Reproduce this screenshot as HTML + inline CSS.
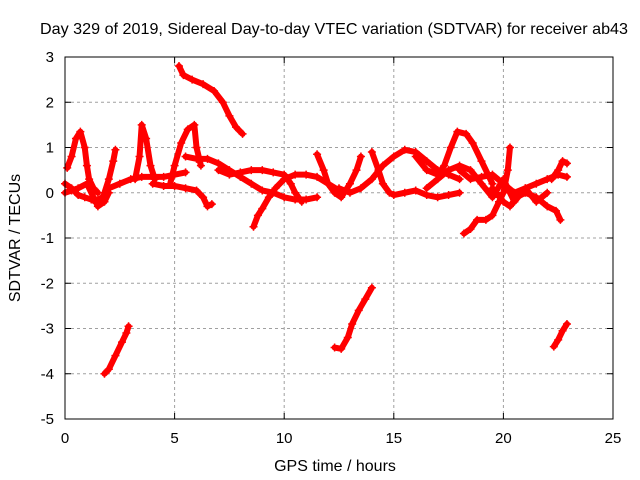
<!DOCTYPE html>
<html><head><meta charset="utf-8"><style>
body{margin:0;background:#fff}
svg{display:block;font-family:"Liberation Sans",sans-serif}
</style></head><body>
<svg id="chart" width="640" height="480">
<text x="40" y="34" textLength="588" lengthAdjust="spacingAndGlyphs" font-size="16">Day 329 of 2019, Sidereal Day-to-day VTEC variation (SDTVAR) for receiver ab43</text>
<text x="335" y="471" text-anchor="middle" font-size="16">GPS time / hours</text>
<text transform="translate(20,238) rotate(-90)" text-anchor="middle" font-size="16">SDTVAR / TECUs</text>
<g id="grid"></g><g id="marks"></g>
<rect x="65" y="57" width="548" height="362" fill="none" stroke="#000" stroke-width="1"/>
</svg>
<script>
const xTicks=[0,5,10,15,20,25];
const yTicks=[-5,-4,-3,-2,-1,0,1,2,3];
const tracks=[
[[0.1,0.55],[0.3,0.8],[0.5,1.2],[0.7,1.35],[0.9,1.0],[1.0,0.6],[1.1,0.3],[1.3,0.1],[1.5,0.0]],
[[0,0.2],[0.3,0.1],[0.6,-0.05],[0.9,-0.1],[1.2,-0.15],[1.4,-0.2],[1.7,-0.1],[2.0,0.1],[2.5,0.2],[3.0,0.3],[3.5,0.35],[4.0,0.35],[4.5,0.35],[5.0,0.4],[5.5,0.45]],
[[0,0.0],[0.3,0.05],[0.6,0.1],[1.0,0.2],[1.3,-0.1],[1.5,-0.3],[1.8,-0.2],[2.0,0.0]],
[[1.8,0.0],[2.0,0.3],[2.2,0.7],[2.3,0.95]],
[[3.2,0.3],[3.4,0.8],[3.5,1.5],[3.7,1.2],[3.9,0.6],[4.1,0.3]],
[[4.8,0.2],[5.0,0.6],[5.3,1.1],[5.6,1.4],[5.9,1.5],[6.0,1.0],[6.2,0.6]],
[[5.2,2.8],[5.4,2.6],[5.8,2.5],[6.3,2.4],[6.8,2.25],[7.2,2.0],[7.5,1.7],[7.8,1.45],[8.1,1.3]],
[[5.5,0.8],[6,0.75],[6.5,0.75],[7,0.65],[7.5,0.5],[8,0.35],[8.5,0.2],[9,0.05],[9.5,0.0],[10,-0.1],[10.5,-0.15],[11,-0.15],[11.5,-0.1]],
[[4,0.2],[4.5,0.15],[5,0.15],[5.5,0.1],[6,0.05],[6.3,-0.1],[6.5,-0.3],[6.7,-0.25]],
[[8.6,-0.75],[8.8,-0.5],[9.0,-0.35],[9.3,-0.1],[9.6,0.1],[10,0.3],[10.5,0.4],[11,0.4],[11.5,0.35],[12,0.2],[12.5,0.05]],
[[7,0.5],[7.5,0.4],[8,0.45],[8.5,0.5],[9,0.5],[9.5,0.45],[10,0.4],[10.3,0.2],[10.5,0.0],[10.8,-0.2]],
[[11.5,0.85],[11.8,0.5],[12,0.2],[12.3,0.0],[12.6,-0.1],[13,0.2],[13.3,0.5],[13.5,0.8]],
[[12.5,0.1],[13,0.0],[13.5,0.1],[14,0.3],[14.5,0.6],[15,0.8],[15.5,0.95],[16,0.9],[16.5,0.7],[17,0.5],[17.5,0.4],[18,0.3]],
[[14,0.9],[14.3,0.5],[14.5,0.2],[14.8,0.0],[15,-0.05],[15.5,0.0],[16,0.05],[16.5,-0.05],[17,-0.1],[17.5,-0.05],[18,0.0]],
[[16,0.8],[16.5,0.5],[17,0.4],[17.3,0.6],[17.6,1.0],[17.9,1.35],[18.3,1.3],[18.6,1.1],[19,0.7],[19.3,0.4],[19.5,0.2]],
[[18.2,-0.9],[18.5,-0.8],[18.8,-0.6],[19.2,-0.6],[19.5,-0.5],[19.8,-0.2],[20,0.0],[20.2,0.5],[20.3,1.0]],
[[18,0.5],[18.5,0.3],[19,0.35],[19.5,0.4],[20,0.2],[20.5,0.0],[21,0.1],[21.5,0.2],[22,0.3],[22.5,0.4],[22.9,0.35]],
[[19.5,0.1],[20,-0.2],[20.3,-0.3],[20.6,-0.1],[21,0.0],[21.5,-0.1],[22,-0.3],[22.4,-0.4],[22.6,-0.6]],
[[22.2,0.3],[22.5,0.5],[22.7,0.7],[22.9,0.65]],
[[16.5,0.1],[17,0.3],[17.5,0.5],[18,0.6],[18.5,0.5],[19,0.2],[19.5,-0.1],[20,0.3],[20.5,-0.2],[21,0.1],[21.5,-0.2],[22,0.0]],
[[1.8,-4.0],[2.0,-3.9],[2.3,-3.6],[2.6,-3.3],[2.8,-3.1],[2.9,-2.95]],
[[12.3,-3.42],[12.6,-3.45],[12.9,-3.2],[13.1,-2.9],[13.4,-2.6],[13.7,-2.35],[14.0,-2.1]],
[[22.3,-3.4],[22.5,-3.25],[22.7,-3.05],[22.9,-2.9]]
];
const NS="http://www.w3.org/2000/svg";
const X=v=>65+v*548/25, Y=v=>419-(v+5)*362/8;
const grid=document.getElementById('grid'), marks=document.getElementById('marks');
function mk(tag,attrs,parent){const e=document.createElementNS(NS,tag);for(const k in attrs)e.setAttribute(k,attrs[k]);parent.appendChild(e);return e;}
xTicks.forEach(t=>{
  const x=X(t);
  if(t>0&&t<25){const g=mk('line',{x1:x,y1:57,x2:x,y2:419,stroke:'#a0a0a0','stroke-dasharray':'3,3'},grid);
  
  }
  mk('line',{x1:x,y1:419,x2:x,y2:413,stroke:'#000'},grid);
  mk('line',{x1:x,y1:57,x2:x,y2:63,stroke:'#000'},grid);
  const l=mk('text',{x:x,y:443,'text-anchor':'middle','font-size':'15'},grid);l.textContent=t;
  
  
});
yTicks.forEach(t=>{
  const y=Y(t);
  if(t>-5&&t<3){const g=mk('line',{x1:65,y1:y,x2:613,y2:y,stroke:'#a0a0a0','stroke-dasharray':'3,3'},grid);
  
  }
  mk('line',{x1:65,y1:y,x2:71,y2:y,stroke:'#000'},grid);
  mk('line',{x1:613,y1:y,x2:607,y2:y,stroke:'#000'},grid);
  const l=mk('text',{x:54,y:y+5,'text-anchor':'end','font-size':'15'},grid);l.textContent=t;
  
  
});
tracks.forEach((tr,i)=>{
  const p=mk('polyline',{points:tr.map(d=>X(d[0])+','+Y(d[1])).join(' '),fill:'none',stroke:'#f00','stroke-width':'6','stroke-linejoin':'round','stroke-linecap':'round'},marks);
  
  
  tr.forEach(d=>{
    const x=X(d[0]),y=Y(d[1]);
    const m=mk('path',{d:`M${x-4},${y}H${x+4}M${x},${y-4}V${y+4}`,stroke:'#f00','stroke-width':'1.5'},marks);
    
    
  });
});
</script>
</body></html>
